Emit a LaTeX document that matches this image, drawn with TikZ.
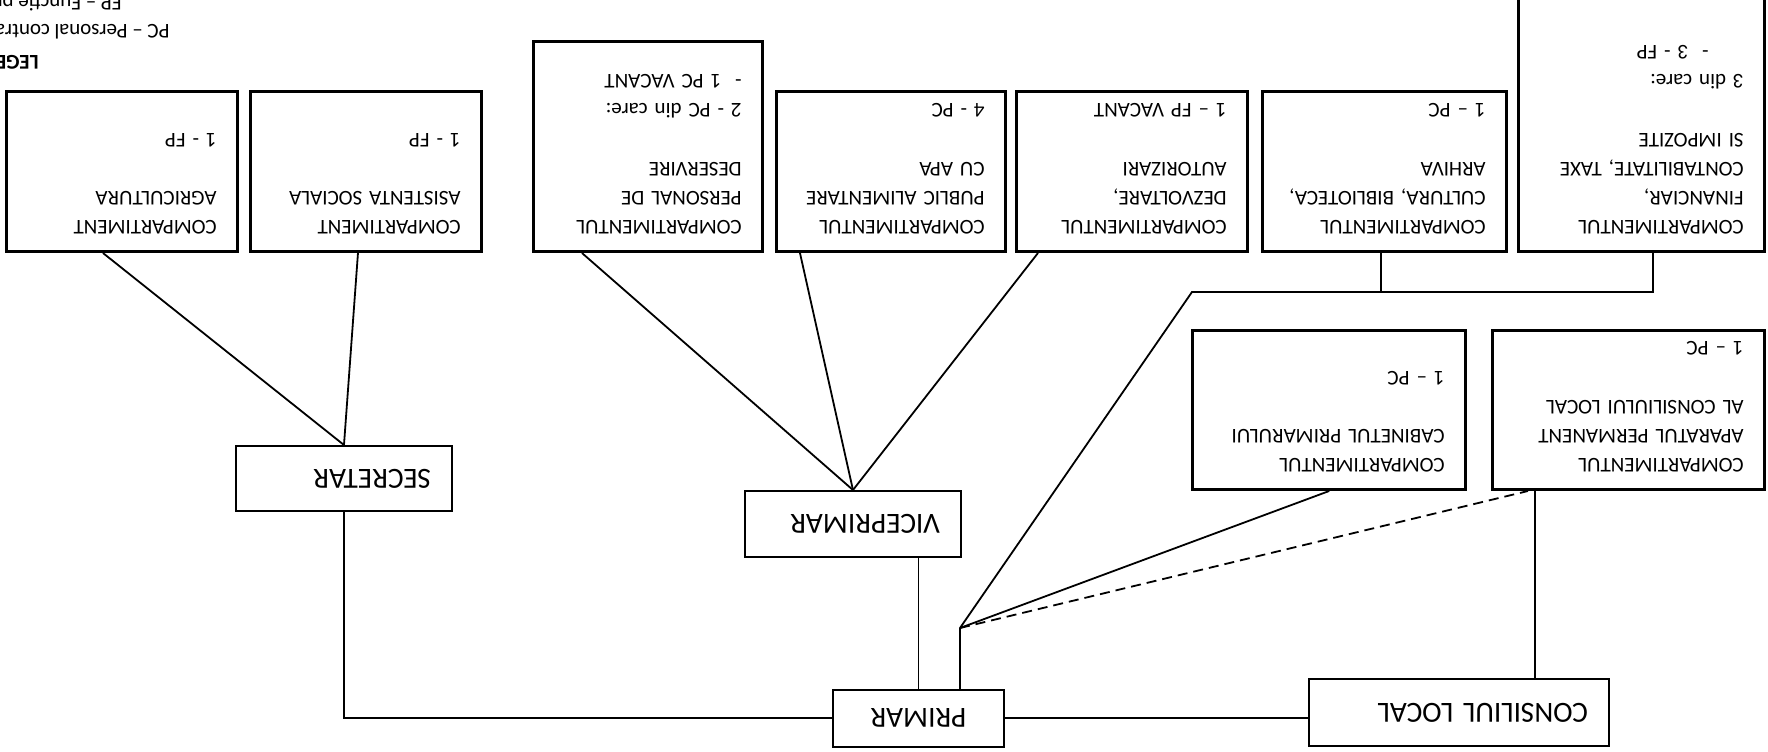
\documentclass[tikz,border=0pt]{standalone}
\usepackage{fontspec}
\setmainfont{Carlito}
\usepackage{tikz}

\begin{document}
\begin{tikzpicture}[x=0.5pt,y=0.5pt,rotate=180,transform shape,
		every node/.style={font=\fontsize{10.5}{14.65}\selectfont},
		comp/.style 2 args={draw,line width=1.3pt,anchor=north west,align=left,inner xsep=10.5pt,inner ysep=0pt,
			text width=#1,text height=15.4pt,text depth=#2},
		sef/.style 2 args={draw,line width=1pt,font=\fontsize{14.6}{17}\selectfont,align=left,inner xsep=10.5pt,inner ysep=0pt,
			text width=#1,minimum height=#2},
		leg/.style={anchor=west,inner sep=0pt},
		lin/.style={line width=0.9pt}]
			\useasboundingbox (0,0) rectangle (1768,751);
			\clip (0,0) rectangle (1768,751);
			
			\node[leg,font=\fontsize{10.5}{12}\selectfont\bfseries] (legenda) at (1729,62) {LEGENDA};
			\node[leg] (pc) at (1598,32) {PC – Personal contractual};
			\node[leg] (fp) at (1646,2) {FP – Functie publica};
			
			\node[comp={94.5pt}{64.6pt}] (agri) at (1529,253) {COMPARTIMENT\\AGRICULTURA\\[14.65pt]1 - FP};
			\node[comp={94.5pt}{64.6pt}] (asist) at (1285,253) {COMPARTIMENT\\ASISTENTA SOCIALA\\[14.65pt]1 - FP};
			\node[comp={93.5pt}{89.6pt}] (personal) at (1004,253) {COMPARTIMENTUL\\PERSONAL DE\\DESERVIRE\\[14.65pt]2 - PC din care:\\-~~1 PC VACANT};
			\node[comp={93.5pt}{64.6pt}] (public) at (761,253) {COMPARTIMENTUL\\PUBLIC ALIMENTARE\\CU APA\\[14.65pt]4 - PC};
			\node[comp={94.5pt}{64.6pt}] (dezv) at (519,253) {COMPARTIMENTUL\\DEZVOLTARE,\\AUTORIZARI\\[14.65pt]1 – FP VACANT};
			\node[comp={101pt}{64.6pt}] (cultura) at (260,253) {COMPARTIMENTUL\\CULTURA, BIBLIOTECA,\\ARHIVA\\[14.65pt]1 – PC};
			\node[comp={102pt}{111.1pt}] (financiar) at (2,253) {COMPARTIMENTUL\\FINANCIAR,\\CONTABILITATE, TAXE\\SI IMPOZITE\\[14.65pt]3 din care:\\\hspace*{17.5pt}-~~3 - FP};
			\node[comp={115.5pt}{64.1pt}] (cabinet) at (301,491) {COMPARTIMENTUL\\CABINETUL PRIMARULUI\\[14.65pt]1 – PC};
			\node[comp={115pt}{64.1pt}] (aparatul) at (2,491) {COMPARTIMENTUL\\APARATUL PERMANENT\\AL CONSILIULUI LOCAL\\[14.65pt]1 – PC};
			
			\node[sef={87pt}{32.5pt}] (secretar) at (1424,478.5) {SECRETAR};
			\node[sef={87pt}{33pt}] (vice) at (915,524) {VICEPRIMAR};
			\node[sef={64.5pt}{28.5pt},align=center] (primar) at (849.5,718) {PRIMAR};
			\node[sef={129pt}{33.5pt}] (consiliu) at (309,712.5) {CONSILIUL LOCAL};
			
			\coordinate (nod) at (808,628);
			\coordinate (bus) at (576,292);
			
			\draw[lin] (agri.north -| 1665,0) -- (secretar.south);
			\draw[lin] (asist.north -| 1410,0) -- (secretar.south);
			\draw[lin] (secretar.north) |- (primar.east);
			\draw[lin] (personal.north -| 1186,0) -- (vice.south);
			\draw[lin] (public.north -| 968,0) -- (vice.south);
			\draw[lin] (dezv.north -| 730,0) -- (vice.south);
			\draw[lin] (primar.south) -- (primar.south |- vice.north);
			\draw[lin] (primar.south -| nod) -- (nod);
			\draw[lin] (nod) -- (cabinet.north);
			\draw[lin,dash pattern=on 5pt off 3pt] (nod) -- (aparatul.north -| 240,0);
			\draw[lin] (nod) -- (bus) -| (financiar.north -| 115,0);
			\draw[lin] (cultura.north -| 387,0) -- (bus -| 387,0);
			\draw[lin] (primar.west) -- (primar.west -| consiliu.east);
			\draw[lin] (consiliu.south -| 233,0) -- (aparatul.north -| 233,0);
		\end{tikzpicture}
\end{document}
